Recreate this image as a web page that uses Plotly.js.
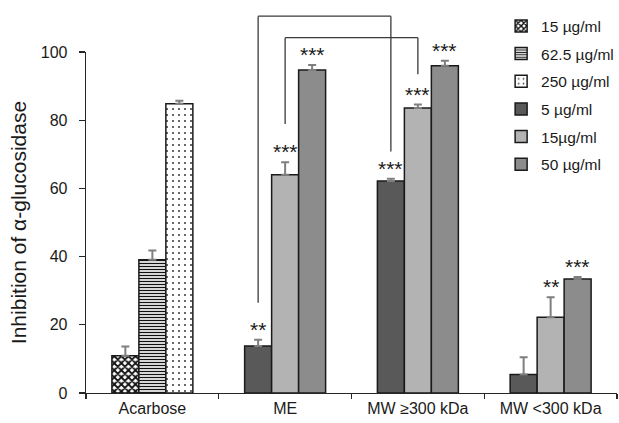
<!DOCTYPE html>
<html><head><meta charset="utf-8">
<script src="https://cdn.plot.ly/plotly-3.0.1.min.js"></script>
<style>body{margin:0;background:#fff}#chart{width:619px;height:423px}</style>
</head><body><div id="chart"></div>
<script>
// ---- data ----
const categories = ['Acarbose', 'ME', 'MW ≥300 kDa', 'MW <300 kDa'];
const acarboseCat = ['Acarbose'];
const extractCats = ['ME', 'MW ≥300 kDa', 'MW <300 kDa'];

const acarbose15 = [10.9];   const acarbose15Err = [2.7];
const acarbose62 = [39.1];   const acarbose62Err = [2.7];
const acarbose250 = [84.8];  const acarbose250Err = [0.9];

const ext5 = [13.8, 62.2, 5.4];   const ext5Err = [1.8, 0.6, 5.1];
const ext15 = [64.0, 83.6, 22.2]; const ext15Err = [3.7, 1.0, 5.9];
const ext50 = [94.7, 96.0, 33.4]; const ext50Err = [1.5, 1.4, 0.6];

const ext5Sig = ['**', '***', ''];
const ext15Sig = ['***', '***', '**'];
const ext50Sig = ['***', '***', '***'];

const seriesNames = ['15 µg/ml', '62.5 µg/ml', '250 µg/ml', '5 µg/ml', '15µg/ml', '50 µg/ml'];
const yTicks = [0, 20, 40, 60, 80, 100];

// ---- styling ----
const FONT = 'Liberation Sans, Arial, sans-serif';
const TXT = '#1a1a1a';
const bargap = 0.39;
const nSlots = 3;
const w = (1 - bargap) / nSlots;
const outline = {color: '#1a1a1a', width: 1.5};
const errStyle = (arr) => ({type: 'data', symmetric: false, array: arr, arrayminus: arr.map(() => 0),
  color: '#7f7f7f', thickness: 2, width: 4});

function bar(name, x, y, err, group, fill, lg) {
  const t = {type: 'bar', name: name, x: x, y: y, offsetgroup: group, legendgroup: lg,
    error_y: errStyle(err), marker: {line: outline}};
  Object.assign(t.marker, fill);
  return t;
}

const traces = [
  bar(seriesNames[0], acarboseCat, acarbose15, acarbose15Err, 'g1',
      {color: '#ffffff', pattern: {shape: 'x', fgcolor: '#111', bgcolor: '#fff', size: 5, solidity: 0.6}}, 'a'),
  bar(seriesNames[1], acarboseCat, acarbose62, acarbose62Err, 'g2',
      {color: '#ffffff', pattern: {shape: '-', fgcolor: '#111', bgcolor: '#fff', size: 3, solidity: 0.45}}, 'b'),
  bar(seriesNames[2], acarboseCat, acarbose250, acarbose250Err, 'g3',
      {color: '#ffffff', pattern: {shape: '.', fgcolor: '#444', bgcolor: '#fff', size: 6, solidity: 0.1}}, 'c'),
  bar(seriesNames[3], extractCats, ext5, ext5Err, 'g1', {color: '#595959'}, 'd'),
  bar(seriesNames[4], extractCats, ext15, ext15Err, 'g2', {color: '#b3b3b3'}, 'e'),
  bar(seriesNames[5], extractCats, ext50, ext50Err, 'g3', {color: '#8c8c8c'}, 'f')
];

// significance stars above the extract bars
const annotations = [];
[[ext5, ext5Err, ext5Sig, 0], [ext15, ext15Err, ext15Sig, 1], [ext50, ext50Err, ext50Sig, 2]].forEach(([v, e, s, slot]) => {
  extractCats.forEach((c, i) => {
    if (!s[i]) return;
    annotations.push({x: categories.indexOf(c) + (slot - 1) * w, y: v[i] + e[i], xref: 'x', yref: 'y',
      text: s[i], showarrow: false, yanchor: 'bottom', yshift: -3,
      font: {family: FONT, size: 21, color: TXT}});
  });
});

// comparison brackets: [fromCategory, toCategory, slot, topLevel, leftBottom, rightBottom]
const brackets = [
  ['ME', 'MW ≥300 kDa', 0, 110.5, 26.5, 70.8],
  ['ME', 'MW ≥300 kDa', 1, 104.2, 78.9, 93.5]
];
const shapes = [];
brackets.forEach(([a, b, slot, top, lb, rb]) => {
  const xa = categories.indexOf(a) + (slot - 1) * w;
  const xb = categories.indexOf(b) + (slot - 1) * w;
  const ln = {color: '#3a3a3a', width: 1.3};
  const base = {type: 'line', xref: 'x', yref: 'paper', line: ln};
  shapes.push(Object.assign({}, base, {x0: xa, x1: xa, y0: lb / 100, y1: top / 100}));
  shapes.push(Object.assign({}, base, {x0: xa, x1: xb, y0: top / 100, y1: top / 100}));
  shapes.push(Object.assign({}, base, {x0: xb, x1: xb, y0: rb / 100, y1: top / 100}));
});

const layout = {
  width: 619, height: 423,
  margin: {l: 86, r: 2, t: 52, b: 30, autoexpand: false},
  paper_bgcolor: '#fff', plot_bgcolor: '#fff',
  font: {family: FONT, size: 16, color: TXT},
  barmode: 'group', bargap: bargap, bargroupgap: 0,
  showlegend: true,
  legend: {x: 1.004, y: 1.125, xanchor: 'right', yanchor: 'top', bgcolor: 'rgba(0,0,0,0)',
    font: {family: FONT, size: 15.5, color: TXT}, tracegroupgap: 4.5, itemwidth: 30, traceorder: 'grouped'},
  xaxis: {type: 'category', categoryorder: 'array', categoryarray: categories, range: [-0.5, 3.5],
    showline: true, linecolor: '#262626', linewidth: 1.3, ticks: 'outside', tickson: 'boundaries',
    ticklen: 5, tickcolor: '#262626', tickwidth: 1.3, showgrid: false, zeroline: false,
    tickfont: {family: FONT, size: 16, color: TXT}, fixedrange: true, automargin: false},
  yaxis: {range: [0, 100], tickvals: yTicks, ticktext: yTicks.map(String), automargin: false,
    showline: true, linecolor: '#262626', linewidth: 1.3, ticks: 'outside', ticklen: 6,
    tickcolor: '#262626', tickwidth: 1.3, showgrid: false, zeroline: false, ticklabelstandoff: 8,
    tickfont: {family: FONT, size: 16, color: TXT},
    title: {text: 'Inhibition of α-glucosidase', font: {family: FONT, size: 21, color: TXT}, standoff: 8}},
  annotations: annotations,
  shapes: shapes
};

Plotly.newPlot('chart', traces, layout, {staticPlot: true, displayModeBar: false});
</script>
</body></html>
